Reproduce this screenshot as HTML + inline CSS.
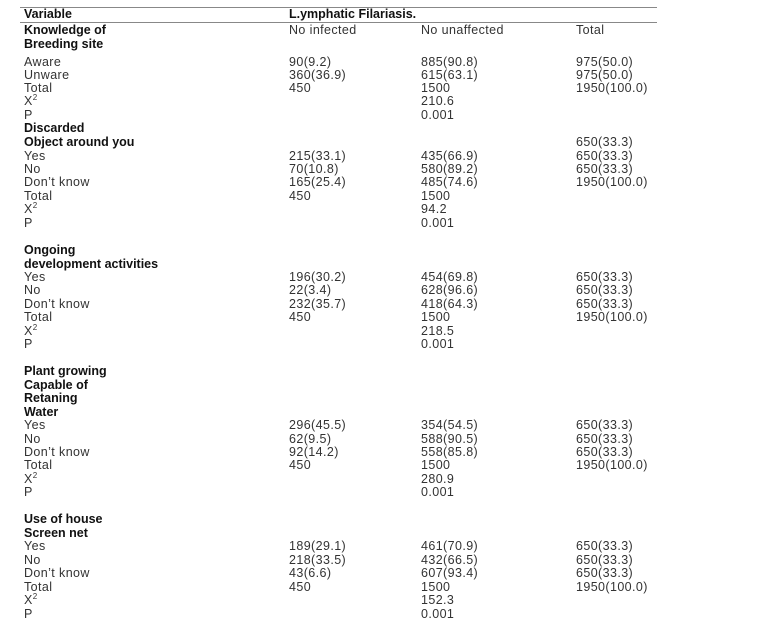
<!DOCTYPE html>
<html><head><meta charset="utf-8"><style>
html,body{margin:0;padding:0;background:#fff;width:780px;height:628px;overflow:hidden;position:relative}
.r{position:absolute;height:16px;line-height:16px;font-family:"Liberation Sans",sans-serif;font-size:12.5px;letter-spacing:0.4px;color:#333;white-space:nowrap}
.b{font-weight:bold;color:#111;letter-spacing:0}
.c1{left:24px}.c2{left:289px}.c3{left:421px}.c4{left:576px}
.ln{position:absolute;left:20px;width:637px;height:1px;background:#888}
sup{font-size:8px;line-height:0}
</style></head><body>
<div class="ln" style="top:7px"></div>
<div class="ln" style="top:22px"></div>
<div id="c"></div>
<script>
const rows=[
[14,"Variable","L.ymphatic Filariasis.","","",1,1],
[30,"Knowledge of","No infected","No unaffected","Total",1],
[44,"Breeding site","","","",1],
[62,"Aware","90(9.2)","885(90.8)","975(50.0)"],
[75,"Unware","360(36.9)","615(63.1)","975(50.0)"],
[88,"Total","450","1500","1950(100.0)"],
[101,"X<sup>2</sup>","","210.6",""],
[115,"P","","0.001",""],
[128,"Discarded","","","",1],
[142,"Object around you","","","650(33.3)",1],
[156,"Yes","215(33.1)","435(66.9)","650(33.3)"],
[169,"No","70(10.8)","580(89.2)","650(33.3)"],
[182,"Don’t know","165(25.4)","485(74.6)","1950(100.0)"],
[196,"Total","450","1500",""],
[209,"X<sup>2</sup>","","94.2",""],
[223,"P","","0.001",""],
[250,"Ongoing","","","",1],
[264,"development activities","","","",1],
[277,"Yes","196(30.2)","454(69.8)","650(33.3)"],
[290,"No","22(3.4)","628(96.6)","650(33.3)"],
[304,"Don’t know","232(35.7)","418(64.3)","650(33.3)"],
[317,"Total","450","1500","1950(100.0)"],
[331,"X<sup>2</sup>","","218.5",""],
[344,"P","","0.001",""],
[371,"Plant growing","","","",1],
[385,"Capable of","","","",1],
[398,"Retaning","","","",1],
[412,"Water","","","",1],
[425,"Yes","296(45.5)","354(54.5)","650(33.3)"],
[439,"No","62(9.5)","588(90.5)","650(33.3)"],
[452,"Don’t know","92(14.2)","558(85.8)","650(33.3)"],
[465,"Total","450","1500","1950(100.0)"],
[479,"X<sup>2</sup>","","280.9",""],
[492,"P","","0.001",""],
[519,"Use of house","","","",1],
[533,"Screen net","","","",1],
[546,"Yes","189(29.1)","461(70.9)","650(33.3)"],
[560,"No","218(33.5)","432(66.5)","650(33.3)"],
[573,"Don’t know","43(6.6)","607(93.4)","650(33.3)"],
[587,"Total","450","1500","1950(100.0)"],
[600,"X<sup>2</sup>","","152.3",""],
[614,"P","","0.001",""]];
let h="";
for(const r of rows){const t=r[0]-8;
h+=`<div class="r c1${r[5]?' b':''}" style="top:${t}px">${r[1]}</div>`;
if(r[2])h+=`<div class="r c2${r[6]?' b':''}" style="top:${t}px">${r[2]}</div>`;
if(r[3])h+=`<div class="r c3" style="top:${t}px">${r[3]}</div>`;
if(r[4])h+=`<div class="r c4" style="top:${t}px">${r[4]}</div>`;}
document.getElementById("c").innerHTML=h;
</script>
</body></html>
